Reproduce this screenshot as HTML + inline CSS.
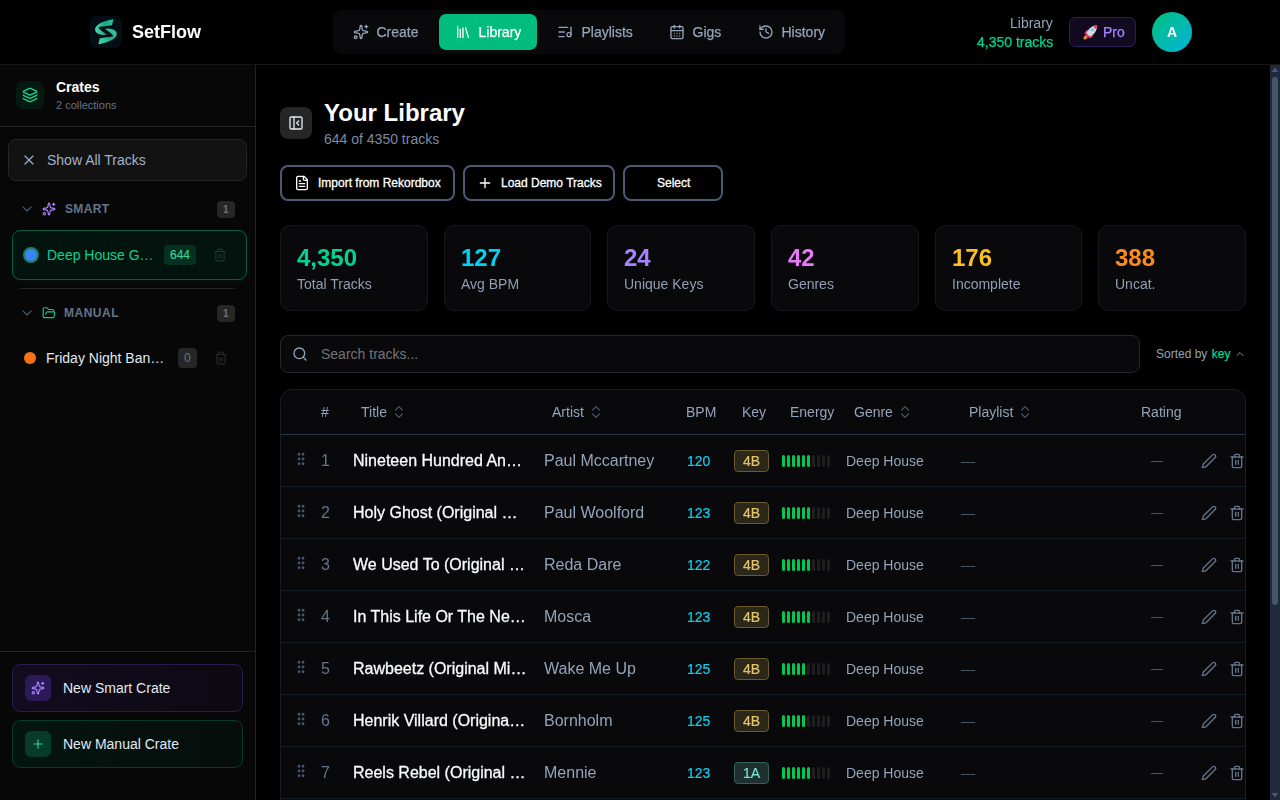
<!DOCTYPE html>
<html><head><meta charset="utf-8"><title>SetFlow</title>
<style>
*{box-sizing:border-box;margin:0;padding:0}
html,body{width:1280px;height:800px;overflow:hidden;background:#000;color:#fff;font-family:"Liberation Sans",sans-serif;}
body{position:relative}
svg{display:block}
.abs{position:absolute}
.t{white-space:nowrap}
.box{position:absolute}
</style></head><body>
<div class="box" style="left:0;top:0;width:1280px;height:65px;background:#000;border-bottom:1px solid #171717"></div>
<div class="box" style="left:90px;top:16px;width:32px;height:32px;border-radius:7px;background:#050e14;overflow:hidden"><svg width="32" height="32" viewBox="0 0 32 32"><defs><linearGradient id="lg1" x1="0" y1="0" x2="1" y2="0"><stop offset="0" stop-color="#46deb0"/><stop offset="0.55" stop-color="#1aa886"/><stop offset="1" stop-color="#2fc79c"/></linearGradient><linearGradient id="lg2" x1="1" y1="0" x2="0" y2="1"><stop offset="0" stop-color="#3fe2b4"/><stop offset="0.5" stop-color="#1fae8a"/><stop offset="1" stop-color="#35d3a4"/></linearGradient></defs><path id="rb" d="M23.4 3.3 C17 4.5 9 6.5 5.8 11 C4.6 13 5 15 6.3 16.5 C8.5 18.6 13 19.6 16.8 18.6 C14 16.5 10 14.5 8.3 11.3 C12 10.3 18 10 22 9.3 Z" fill="url(#lg1)"/><path d="M23.4 3.3 C17 4.5 9 6.5 5.8 11 C4.6 13 5 15 6.3 16.5 C8.5 18.6 13 19.6 16.8 18.6 C14 16.5 10 14.5 8.3 11.3 C12 10.3 18 10 22 9.3 Z" fill="url(#lg2)" transform="rotate(180 15.9 15.75)"/></svg></div>
<div class="abs t" style="left:132px;top:20px;font-size:18px;line-height:24px;color:#fff;font-weight:bold;will-change:transform">SetFlow</div>
<div class="box" style="left:333px;top:10px;width:512px;height:44px;border-radius:9px;background:#09090b"></div>
<div class="box" style="left:439px;top:14px;width:98px;height:36px;border-radius:7px;background:#00bc7d"></div>
<svg class="abs" style="left:353px;top:24px;" width="16" height="16" viewBox="0 0 24 24" fill="none" stroke="#94a3b8" stroke-width="2" stroke-linecap="round" stroke-linejoin="round"><path d="M11.017 2.814a1 1 0 0 1 1.966 0l1.051 5.558a2 2 0 0 0 1.594 1.594l5.558 1.051a1 1 0 0 1 0 1.966l-5.558 1.051a2 2 0 0 0-1.594 1.594l-1.051 5.558a1 1 0 0 1-1.966 0l-1.051-5.558a2 2 0 0 0-1.594-1.594l-5.558-1.051a1 1 0 0 1 0-1.966l5.558-1.051a2 2 0 0 0 1.594-1.594z"/><path d="M20 2v4"/><path d="M22 4h-4"/><circle cx="4" cy="20" r="2"/></svg>
<div class="abs t" style="left:377px;top:22px;font-size:14px;line-height:20px;color:#94a3b8;will-change:transform;transform:translateX(-0.5px);-webkit-text-stroke:0.25px currentColor">Create</div>
<svg class="abs" style="left:455px;top:24px;" width="16" height="16" viewBox="0 0 24 24" fill="none" stroke="#fff" stroke-width="2" stroke-linecap="round" stroke-linejoin="round"><path d="m16 6 4 14"/><path d="M12 6v14"/><path d="M8 8v12"/><path d="M4 4v16"/></svg>
<div class="abs t" style="left:479px;top:22px;font-size:14px;line-height:20px;color:#fff;will-change:transform;transform:translateX(-0.5px);-webkit-text-stroke:0.25px currentColor">Library</div>
<svg class="abs" style="left:557px;top:24px;" width="16" height="16" viewBox="0 0 24 24" fill="none" stroke="#94a3b8" stroke-width="2" stroke-linecap="round" stroke-linejoin="round"><path d="M16 5H3"/><path d="M11 12H3"/><path d="M11 19H3"/><path d="M21 16V5"/><circle cx="18" cy="16" r="3"/></svg>
<div class="abs t" style="left:582px;top:22px;font-size:14px;line-height:20px;color:#94a3b8;will-change:transform;transform:translateX(-0.5px);-webkit-text-stroke:0.25px currentColor">Playlists</div>
<svg class="abs" style="left:669px;top:24px;" width="16" height="16" viewBox="0 0 24 24" fill="none" stroke="#94a3b8" stroke-width="2" stroke-linecap="round" stroke-linejoin="round"><path d="M8 2v4"/><path d="M16 2v4"/><rect width="18" height="18" x="3" y="4" rx="2"/><path d="M3 10h18"/><path d="M8 14h.01"/><path d="M12 14h.01"/><path d="M16 14h.01"/><path d="M8 18h.01"/><path d="M12 18h.01"/><path d="M16 18h.01"/></svg>
<div class="abs t" style="left:693px;top:22px;font-size:14px;line-height:20px;color:#94a3b8;will-change:transform;transform:translateX(-0.5px);-webkit-text-stroke:0.25px currentColor">Gigs</div>
<svg class="abs" style="left:758px;top:24px;" width="16" height="16" viewBox="0 0 24 24" fill="none" stroke="#94a3b8" stroke-width="2" stroke-linecap="round" stroke-linejoin="round"><path d="M3 12a9 9 0 1 0 9-9 9.75 9.75 0 0 0-6.74 2.74L3 8"/><path d="M3 3v5h5"/><path d="M12 7v5l4 2"/></svg>
<div class="abs t" style="left:782px;top:22px;font-size:14px;line-height:20px;color:#94a3b8;will-change:transform;transform:translateX(-0.5px);-webkit-text-stroke:0.25px currentColor">History</div>
<div class="abs t" style="right:227px;top:12px;text-align:right;font-size:14px;line-height:20px;color:#94a3b8;will-change:transform;transform:translateY(0.6px)">Library</div>
<div class="abs t" style="right:227px;top:32px;text-align:right;font-size:14px;line-height:20px;color:#00d492;will-change:transform;-webkit-text-stroke:0.25px #00d492">4,350 tracks</div>
<div class="box" style="left:1069px;top:17px;width:67px;height:30px;border:1px solid #2b1b55;background:#120a20;border-radius:6px"></div>
<svg class="abs" style="left:1081.5px;top:24px" width="16" height="16" viewBox="0 0 16 16"><path d="M1.7 15.2 C1.0 13.4 2.2 11.8 4.0 11.5 L5.5 13.0 C5.2 14.8 3.5 15.9 1.7 15.2Z" fill="#f5931f"/><path d="M6.8 5.8 C4.6 5.8 2.9 7.4 2.4 10.2 L5.8 9.4 Z M11.2 10.2 C11.2 12.4 9.6 14.1 6.8 14.6 L7.6 11.2 Z" fill="#ee3f6b"/><path d="M15.1 1.3 C11.5 1.3 8.3 3.1 6.0 6.6 L4.4 9.6 L7.4 12.6 L10.4 11.0 C13.9 8.7 15.1 4.9 15.1 1.3Z" fill="#d3d9e2"/><path d="M4.4 9.6 L7.4 12.6 L5.6 13.6 L3.4 11.4 Z" fill="#ee3f6b"/><path d="M15.1 1.3 C13.7 1.3 12.3 1.6 11.1 2.2 L14.2 5.3 C14.8 4.1 15.1 2.7 15.1 1.3 Z" fill="#e8334f"/><circle cx="10.4" cy="5.9" r="1.45" fill="#57aef0"/><circle cx="10.4" cy="5.9" r="0.7" fill="#a8d8f8"/></svg>
<div class="abs t" style="left:1103px;top:22px;font-size:14px;line-height:20px;color:#a684ff;will-change:transform;-webkit-text-stroke:0.25px #a684ff">Pro</div>
<div class="box" style="left:1152px;top:12px;width:40px;height:40px;border-radius:50%;background:linear-gradient(135deg,#00bf86 10%,#00b5d2 90%)"></div>
<div class="abs t" style="left:1167px;top:22px;font-size:14px;line-height:20px;color:#fff;font-weight:bold;will-change:transform">A</div>
<div class="box" style="left:0;top:65px;width:256px;height:735px;background:#070707;border-right:1px solid #232323"></div>
<div class="box" style="left:16px;top:81px;width:28px;height:28px;border-radius:7px;background:#051811"></div>
<svg class="abs" style="left:22px;top:87px;" width="16" height="16" viewBox="0 0 24 24" fill="none" stroke="#0fd596" stroke-width="2" stroke-linecap="round" stroke-linejoin="round"><path d="M12.83 2.18a2 2 0 0 0-1.66 0L2.6 6.08a1 1 0 0 0 0 1.83l8.58 3.91a2 2 0 0 0 1.66 0l8.58-3.9a1 1 0 0 0 0-1.83z"/><path d="M2 12a1 1 0 0 0 .58.91l8.6 3.91a2 2 0 0 0 1.65 0l8.58-3.9A1 1 0 0 0 22 12"/><path d="M2 17a1 1 0 0 0 .58.91l8.6 3.91a2 2 0 0 0 1.65 0l8.58-3.9A1 1 0 0 0 22 17"/></svg>
<div class="abs t" style="left:56px;top:77px;font-size:14px;line-height:20px;color:#fff;font-weight:bold">Crates</div>
<div class="abs t" style="left:56px;top:97px;font-size:11px;line-height:16px;color:#64748b;">2 collections</div>
<div class="box" style="left:0;top:126px;width:255px;height:1px;background:#232323"></div>
<div class="box" style="left:8px;top:139px;width:239px;height:42px;border-radius:8px;background:#121212;border:1px solid #262626"></div>
<svg class="abs" style="left:21px;top:152px;" width="16" height="16" viewBox="0 0 24 24" fill="none" stroke="#94a3b8" stroke-width="2" stroke-linecap="round" stroke-linejoin="round"><path d="M18 6 6 18"/><path d="m6 6 12 12"/></svg>
<div class="abs t" style="left:47px;top:150px;font-size:14px;line-height:20px;color:#a3b1c6;">Show All Tracks</div>
<svg class="abs" style="left:19px;top:201px;" width="16" height="16" viewBox="0 0 24 24" fill="none" stroke="#475569" stroke-width="1.8" stroke-linecap="round" stroke-linejoin="round"><path d="m6 9 6 6 6-6"/></svg>
<svg class="abs" style="left:42px;top:202px;" width="14" height="14" viewBox="0 0 24 24" fill="none" stroke="#a684ff" stroke-width="2" stroke-linecap="round" stroke-linejoin="round"><path d="M11.017 2.814a1 1 0 0 1 1.966 0l1.051 5.558a2 2 0 0 0 1.594 1.594l5.558 1.051a1 1 0 0 1 0 1.966l-5.558 1.051a2 2 0 0 0-1.594 1.594l-1.051 5.558a1 1 0 0 1-1.966 0l-1.051-5.558a2 2 0 0 0-1.594-1.594l-5.558-1.051a1 1 0 0 1 0-1.966l5.558-1.051a2 2 0 0 0 1.594-1.594z"/><path d="M20 2v4"/><path d="M22 4h-4"/><circle cx="4" cy="20" r="2"/></svg>
<div class="abs t" style="left:65px;top:201px;font-size:12px;line-height:16px;color:#64748b;font-weight:bold;letter-spacing:0.35px">SMART</div>
<div class="box" style="left:217px;top:201px;width:18px;height:17px;border-radius:4px;background:#262626"></div>
<div class="abs t" style="left:223px;top:202px;font-size:10px;line-height:15px;color:#64748b;font-weight:bold">1</div>
<div class="box" style="left:12px;top:230px;width:235px;height:50px;border-radius:8px;background:#03130e;border:1px solid #085c40;box-shadow:0 2px 8px rgba(16,185,129,0.07)"></div>
<div class="box" style="left:23px;top:247px;width:16px;height:16px;border-radius:50%;background:#3b82f6;border:2px solid #1b7f64"></div>
<div class="abs t" style="left:47px;top:245px;font-size:14px;line-height:20px;color:#00d492;">Deep House G…</div>
<div class="box" style="left:164px;top:245px;width:32px;height:20px;border-radius:4px;background:#06301f"></div>
<div class="abs t" style="left:170px;top:247px;font-size:12px;line-height:16px;color:#34d399;-webkit-text-stroke:0.2px #34d399">644</div>
<svg class="abs" style="left:213px;top:248px;" width="14" height="14" viewBox="0 0 24 24" fill="none" stroke="#1d3a31" stroke-width="2" stroke-linecap="round" stroke-linejoin="round"><path d="M3 6h18"/><path d="M19 6v14c0 1-1 2-2 2H7c-1 0-2-1-2-2V6"/><path d="M8 6V4c0-1 1-2 2-2h4c1 0 2 1 2 2v2"/><path d="M10 11v6"/><path d="M14 11v6"/></svg>
<div class="box" style="left:20px;top:288px;width:215px;height:1px;background:#232323"></div>
<svg class="abs" style="left:19px;top:305px;" width="16" height="16" viewBox="0 0 24 24" fill="none" stroke="#475569" stroke-width="1.8" stroke-linecap="round" stroke-linejoin="round"><path d="m6 9 6 6 6-6"/></svg>
<svg class="abs" style="left:42px;top:306px;" width="14" height="14" viewBox="0 0 24 24" fill="none" stroke="#10c98a" stroke-width="2" stroke-linecap="round" stroke-linejoin="round"><path d="m6 14 1.5-2.9A2 2 0 0 1 9.24 10H20a2 2 0 0 1 1.94 2.5l-1.54 6a2 2 0 0 1-1.95 1.5H4a2 2 0 0 1-2-2V5a2 2 0 0 1 2-2h3.9a2 2 0 0 1 1.69.9l.81 1.2a2 2 0 0 0 1.67.9H18a2 2 0 0 1 2 2v2"/></svg>
<div class="abs t" style="left:64px;top:305px;font-size:12px;line-height:16px;color:#64748b;font-weight:bold;letter-spacing:0.5px">MANUAL</div>
<div class="box" style="left:217px;top:305px;width:18px;height:17px;border-radius:4px;background:#262626"></div>
<div class="abs t" style="left:223px;top:306px;font-size:10px;line-height:15px;color:#64748b;font-weight:bold">1</div>
<div class="box" style="left:24px;top:352px;width:12px;height:12px;border-radius:50%;background:#f97316"></div>
<div class="abs t" style="left:46px;top:348px;font-size:14px;line-height:20px;color:#e2e8f0;">Friday Night Ban…</div>
<div class="box" style="left:178px;top:348px;width:19px;height:20px;border-radius:4px;background:#262626"></div>
<div class="abs t" style="left:184px;top:350px;font-size:12px;line-height:16px;color:#64748b;">0</div>
<svg class="abs" style="left:214px;top:351px;" width="14" height="14" viewBox="0 0 24 24" fill="none" stroke="#262a30" stroke-width="2" stroke-linecap="round" stroke-linejoin="round"><path d="M3 6h18"/><path d="M19 6v14c0 1-1 2-2 2H7c-1 0-2-1-2-2V6"/><path d="M8 6V4c0-1 1-2 2-2h4c1 0 2 1 2 2v2"/><path d="M10 11v6"/><path d="M14 11v6"/></svg>
<div class="box" style="left:0;top:651px;width:255px;height:1px;background:#232323"></div>
<div class="box" style="left:12px;top:664px;width:231px;height:48px;border-radius:8px;background:linear-gradient(90deg,#130c1f,#0c0911);border:1px solid #2b1a4d"></div>
<div class="box" style="left:25px;top:675px;width:26px;height:26px;border-radius:6px;background:#2c1a58"></div>
<svg class="abs" style="left:31px;top:681px;" width="14" height="14" viewBox="0 0 24 24" fill="none" stroke="#a684ff" stroke-width="2" stroke-linecap="round" stroke-linejoin="round"><path d="M11.017 2.814a1 1 0 0 1 1.966 0l1.051 5.558a2 2 0 0 0 1.594 1.594l5.558 1.051a1 1 0 0 1 0 1.966l-5.558 1.051a2 2 0 0 0-1.594 1.594l-1.051 5.558a1 1 0 0 1-1.966 0l-1.051-5.558a2 2 0 0 0-1.594-1.594l-5.558-1.051a1 1 0 0 1 0-1.966l5.558-1.051a2 2 0 0 0 1.594-1.594z"/><path d="M20 2v4"/><path d="M22 4h-4"/><circle cx="4" cy="20" r="2"/></svg>
<div class="abs t" style="left:63px;top:678px;font-size:14px;line-height:20px;color:#e2e8f0;">New Smart Crate</div>
<div class="box" style="left:12px;top:720px;width:231px;height:48px;border-radius:8px;background:linear-gradient(90deg,#04150f,#060d0b);border:1px solid #073b29"></div>
<div class="box" style="left:25px;top:731px;width:26px;height:26px;border-radius:6px;background:#063c29"></div>
<svg class="abs" style="left:31px;top:737px;" width="14" height="14" viewBox="0 0 24 24" fill="none" stroke="#34d399" stroke-width="2" stroke-linecap="round" stroke-linejoin="round"><path d="M5 12h14"/><path d="M12 5v14"/></svg>
<div class="abs t" style="left:63px;top:734px;font-size:14px;line-height:20px;color:#e2e8f0;">New Manual Crate</div>
<div class="box" style="left:280px;top:107px;width:32px;height:32px;border-radius:8px;background:#262627"></div>
<svg class="abs" style="left:288px;top:115px;" width="16" height="16" viewBox="0 0 24 24" fill="none" stroke="#e5e7eb" stroke-width="2" stroke-linecap="round" stroke-linejoin="round"><rect width="18" height="18" x="3" y="3" rx="2"/><path d="M9 3v18"/><path d="m16 15-3-3 3-3"/></svg>
<div class="abs t" style="left:324px;top:97px;font-size:24px;line-height:32px;color:#fff;font-weight:bold">Your Library</div>
<div class="abs t" style="left:324px;top:129px;font-size:14px;line-height:20px;color:#7c8ba1;">644 of 4350 tracks</div>
<div class="box" style="left:280px;top:165px;width:175px;height:36px;border-radius:8px;border:2px solid #4a5a75"></div>
<div class="box" style="left:463px;top:165px;width:152px;height:36px;border-radius:8px;border:2px solid #4a5a75"></div>
<div class="box" style="left:623px;top:165px;width:100px;height:36px;border-radius:8px;border:2px solid #4a5a75"></div>
<svg class="abs" style="left:294px;top:175px;" width="16" height="16" viewBox="0 0 24 24" fill="none" stroke="#fff" stroke-width="2" stroke-linecap="round" stroke-linejoin="round"><path d="M15 2H6a2 2 0 0 0-2 2v16a2 2 0 0 0 2 2h12a2 2 0 0 0 2-2V7Z"/><path d="M14 2v4a2 2 0 0 0 2 2h4"/><path d="M10 9H8"/><path d="M16 13H8"/><path d="M16 17H8"/></svg>
<div class="abs t" style="left:318px;top:175px;font-size:12px;line-height:16px;color:#fff;-webkit-text-stroke:0.3px #fff">Import from Rekordbox</div>
<svg class="abs" style="left:477px;top:175px;" width="16" height="16" viewBox="0 0 24 24" fill="none" stroke="#fff" stroke-width="2" stroke-linecap="round" stroke-linejoin="round"><path d="M5 12h14"/><path d="M12 5v14"/></svg>
<div class="abs t" style="left:501px;top:175px;font-size:12px;line-height:16px;color:#fff;-webkit-text-stroke:0.3px #fff">Load Demo Tracks</div>
<div class="abs t" style="left:657px;top:175px;font-size:12px;line-height:16px;color:#fff;-webkit-text-stroke:0.3px #fff">Select</div>
<div class="box" style="left:280.00px;top:225px;width:147.67px;height:86px;border-radius:10px;background:#09090b;border:1px solid #16181d"></div>
<div class="abs t" style="left:297.0px;top:242px;font-size:24px;line-height:32px;color:#00d492;font-weight:bold;will-change:transform">4,350</div>
<div class="abs t" style="left:297.0px;top:274px;font-size:14px;line-height:20px;color:#929eb3;will-change:transform">Total Tracks</div>
<div class="box" style="left:443.67px;top:225px;width:147.67px;height:86px;border-radius:10px;background:#09090b;border:1px solid #16181d"></div>
<div class="abs t" style="left:460.67px;top:242px;font-size:24px;line-height:32px;color:#00d3f2;font-weight:bold;will-change:transform">127</div>
<div class="abs t" style="left:460.67px;top:274px;font-size:14px;line-height:20px;color:#929eb3;will-change:transform">Avg BPM</div>
<div class="box" style="left:607.34px;top:225px;width:147.67px;height:86px;border-radius:10px;background:#09090b;border:1px solid #16181d"></div>
<div class="abs t" style="left:624.34px;top:242px;font-size:24px;line-height:32px;color:#a684ff;font-weight:bold;will-change:transform">24</div>
<div class="abs t" style="left:624.34px;top:274px;font-size:14px;line-height:20px;color:#929eb3;will-change:transform">Unique Keys</div>
<div class="box" style="left:771.01px;top:225px;width:147.67px;height:86px;border-radius:10px;background:#09090b;border:1px solid #16181d"></div>
<div class="abs t" style="left:788.01px;top:242px;font-size:24px;line-height:32px;color:#e879f9;font-weight:bold;will-change:transform">42</div>
<div class="abs t" style="left:788.01px;top:274px;font-size:14px;line-height:20px;color:#929eb3;will-change:transform">Genres</div>
<div class="box" style="left:934.68px;top:225px;width:147.67px;height:86px;border-radius:10px;background:#09090b;border:1px solid #16181d"></div>
<div class="abs t" style="left:951.68px;top:242px;font-size:24px;line-height:32px;color:#fbbf24;font-weight:bold;will-change:transform">176</div>
<div class="abs t" style="left:951.68px;top:274px;font-size:14px;line-height:20px;color:#929eb3;will-change:transform">Incomplete</div>
<div class="box" style="left:1098.35px;top:225px;width:147.67px;height:86px;border-radius:10px;background:#09090b;border:1px solid #16181d"></div>
<div class="abs t" style="left:1115.35px;top:242px;font-size:24px;line-height:32px;color:#fb8c1c;font-weight:bold;will-change:transform">388</div>
<div class="abs t" style="left:1115.35px;top:274px;font-size:14px;line-height:20px;color:#929eb3;will-change:transform">Uncat.</div>
<div class="box" style="left:280px;top:335px;width:860px;height:38px;border-radius:8px;background:#09090b;border:1px solid #26272b"></div>
<svg class="abs" style="left:292px;top:346px;" width="16" height="16" viewBox="0 0 24 24" fill="none" stroke="#94a3b8" stroke-width="2" stroke-linecap="round" stroke-linejoin="round"><circle cx="11" cy="11" r="8"/><path d="m21 21-4.3-4.3"/></svg>
<div class="abs t" style="left:321px;top:344px;font-size:14px;line-height:20px;color:#737378;">Search tracks...</div>
<div class="abs t" style="left:1156px;top:346px;font-size:12px;line-height:16px;color:#94a3b8;">Sorted by <span style="color:#00d492;margin-left:1px;-webkit-text-stroke:0.25px #00d492">key</span></div>
<svg class="abs" style="left:1233.5px;top:347.5px;" width="12" height="12" viewBox="0 0 24 24" fill="none" stroke="#8590a3" stroke-width="2" stroke-linecap="round" stroke-linejoin="round"><path d="m18 15-6-6-6 6"/></svg>
<div class="box" style="left:280px;top:389px;width:966px;height:430px;border-radius:12px;background:#09090b;border:1px solid #171c28"></div>
<div class="abs t" style="left:320.7px;top:402px;font-size:14px;line-height:20px;color:#94a3b8;will-change:transform">#</div>
<div class="abs t" style="left:361px;top:402px;font-size:14px;line-height:20px;color:#94a3b8;will-change:transform">Title</div>
<div class="abs t" style="left:552px;top:402px;font-size:14px;line-height:20px;color:#94a3b8;will-change:transform">Artist</div>
<div class="abs t" style="left:686px;top:402px;font-size:14px;line-height:20px;color:#94a3b8;will-change:transform">BPM</div>
<div class="abs t" style="left:742px;top:402px;font-size:14px;line-height:20px;color:#94a3b8;will-change:transform">Key</div>
<div class="abs t" style="left:790px;top:402px;font-size:14px;line-height:20px;color:#94a3b8;will-change:transform">Energy</div>
<div class="abs t" style="left:854px;top:402px;font-size:14px;line-height:20px;color:#94a3b8;will-change:transform">Genre</div>
<div class="abs t" style="left:969px;top:402px;font-size:14px;line-height:20px;color:#94a3b8;will-change:transform">Playlist</div>
<div class="abs t" style="left:1141px;top:402px;font-size:14px;line-height:20px;color:#94a3b8;will-change:transform">Rating</div>
<svg class="abs" style="left:391px;top:404px;" width="16" height="16" viewBox="0 0 24 24" fill="none" stroke="#475569" stroke-width="1.8" stroke-linecap="round" stroke-linejoin="round"><path d="m7 15 5 5 5-5"/><path d="m7 9 5-5 5 5"/></svg>
<svg class="abs" style="left:588px;top:404px;" width="16" height="16" viewBox="0 0 24 24" fill="none" stroke="#475569" stroke-width="1.8" stroke-linecap="round" stroke-linejoin="round"><path d="m7 15 5 5 5-5"/><path d="m7 9 5-5 5 5"/></svg>
<svg class="abs" style="left:897px;top:404px;" width="16" height="16" viewBox="0 0 24 24" fill="none" stroke="#475569" stroke-width="1.8" stroke-linecap="round" stroke-linejoin="round"><path d="m7 15 5 5 5-5"/><path d="m7 9 5-5 5 5"/></svg>
<svg class="abs" style="left:1017px;top:404px;" width="16" height="16" viewBox="0 0 24 24" fill="none" stroke="#475569" stroke-width="1.8" stroke-linecap="round" stroke-linejoin="round"><path d="m7 15 5 5 5-5"/><path d="m7 9 5-5 5 5"/></svg>
<div class="box" style="left:281px;top:434px;width:964px;height:1px;background:#2a3649"></div>
<div class="box" style="left:281px;top:486px;width:964px;height:1px;background:#161c27"></div>
<svg class="abs" style="left:293px;top:451px;" width="16" height="16" viewBox="0 0 24 24" fill="none" stroke="#475569" stroke-width="2.4" stroke-linecap="round" stroke-linejoin="round"><circle cx="9" cy="12" r="1"/><circle cx="9" cy="5" r="1"/><circle cx="9" cy="19" r="1"/><circle cx="15" cy="12" r="1"/><circle cx="15" cy="5" r="1"/><circle cx="15" cy="19" r="1"/></svg>
<div class="abs t" style="left:321px;top:450px;font-size:16px;line-height:22px;color:#64748b;will-change:transform">1</div>
<div class="abs t" style="left:353px;top:450px;font-size:16px;line-height:22px;color:#f8fafc;will-change:transform;-webkit-text-stroke:0.3px #f8fafc">Nineteen Hundred An…</div>
<div class="abs t" style="left:544px;top:450px;font-size:16px;line-height:22px;color:#94a3b8;will-change:transform">Paul Mccartney</div>
<div class="abs t" style="left:687px;top:451px;font-size:14px;line-height:20px;color:#12cdee;will-change:transform;-webkit-text-stroke:0.2px #12cdee">120</div>
<div class="box" style="left:734px;top:450px;width:35px;height:22px;border-radius:4px;background:#2b281a;border:1px solid #69592c"></div>
<div class="abs t" style="left:743px;top:451px;font-size:14px;line-height:20px;color:#e2c568;will-change:transform;-webkit-text-stroke:0.2px #e2c568">4B</div>
<div class="box" style="left:782px;top:455px;width:3px;height:12px;border-radius:1.5px;background:#00c950"></div>
<div class="box" style="left:787px;top:455px;width:3px;height:12px;border-radius:1.5px;background:#00c950"></div>
<div class="box" style="left:792px;top:455px;width:3px;height:12px;border-radius:1.5px;background:#00c950"></div>
<div class="box" style="left:797px;top:455px;width:3px;height:12px;border-radius:1.5px;background:#00c950"></div>
<div class="box" style="left:802px;top:455px;width:3px;height:12px;border-radius:1.5px;background:#00c950"></div>
<div class="box" style="left:807px;top:455px;width:3px;height:12px;border-radius:1.5px;background:#00c950"></div>
<div class="box" style="left:812px;top:455px;width:3px;height:12px;border-radius:1.5px;background:#1f1f1f"></div>
<div class="box" style="left:817px;top:455px;width:3px;height:12px;border-radius:1.5px;background:#1f1f1f"></div>
<div class="box" style="left:822px;top:455px;width:3px;height:12px;border-radius:1.5px;background:#1f1f1f"></div>
<div class="box" style="left:827px;top:455px;width:3px;height:12px;border-radius:1.5px;background:#1f1f1f"></div>
<div class="abs t" style="left:846px;top:451px;font-size:14px;line-height:20px;color:#94a3b8;will-change:transform">Deep House</div>
<div class="abs t" style="left:961px;top:451px;font-size:14px;line-height:20px;color:#475569;">—</div>
<div class="abs t" style="left:1151px;top:452px;font-size:12px;line-height:18px;color:#475569;">—</div>
<svg class="abs" style="left:1201px;top:453px;" width="16" height="16" viewBox="0 0 24 24" fill="none" stroke="#64748b" stroke-width="2" stroke-linecap="round" stroke-linejoin="round"><path d="M21.174 6.812a1 1 0 0 0-3.986-3.987L3.842 16.174a2 2 0 0 0-.5.83l-1.321 4.352a.5.5 0 0 0 .623.622l4.353-1.32a2 2 0 0 0 .83-.497z"/></svg>
<svg class="abs" style="left:1229px;top:453.25px;" width="16" height="16" viewBox="0 0 24 24" fill="none" stroke="#64748b" stroke-width="2" stroke-linecap="round" stroke-linejoin="round"><path d="M3 6h18"/><path d="M19 6v14c0 1-1 2-2 2H7c-1 0-2-1-2-2V6"/><path d="M8 6V4c0-1 1-2 2-2h4c1 0 2 1 2 2v2"/><path d="M10 11v6"/><path d="M14 11v6"/></svg>
<div class="box" style="left:281px;top:538px;width:964px;height:1px;background:#161c27"></div>
<svg class="abs" style="left:293px;top:503px;" width="16" height="16" viewBox="0 0 24 24" fill="none" stroke="#475569" stroke-width="2.4" stroke-linecap="round" stroke-linejoin="round"><circle cx="9" cy="12" r="1"/><circle cx="9" cy="5" r="1"/><circle cx="9" cy="19" r="1"/><circle cx="15" cy="12" r="1"/><circle cx="15" cy="5" r="1"/><circle cx="15" cy="19" r="1"/></svg>
<div class="abs t" style="left:321px;top:502px;font-size:16px;line-height:22px;color:#64748b;will-change:transform">2</div>
<div class="abs t" style="left:353px;top:502px;font-size:16px;line-height:22px;color:#f8fafc;will-change:transform;-webkit-text-stroke:0.3px #f8fafc">Holy Ghost (Original …</div>
<div class="abs t" style="left:544px;top:502px;font-size:16px;line-height:22px;color:#94a3b8;will-change:transform">Paul Woolford</div>
<div class="abs t" style="left:687px;top:503px;font-size:14px;line-height:20px;color:#12cdee;will-change:transform;-webkit-text-stroke:0.2px #12cdee">123</div>
<div class="box" style="left:734px;top:502px;width:35px;height:22px;border-radius:4px;background:#2b281a;border:1px solid #69592c"></div>
<div class="abs t" style="left:743px;top:503px;font-size:14px;line-height:20px;color:#e2c568;will-change:transform;-webkit-text-stroke:0.2px #e2c568">4B</div>
<div class="box" style="left:782px;top:507px;width:3px;height:12px;border-radius:1.5px;background:#00c950"></div>
<div class="box" style="left:787px;top:507px;width:3px;height:12px;border-radius:1.5px;background:#00c950"></div>
<div class="box" style="left:792px;top:507px;width:3px;height:12px;border-radius:1.5px;background:#00c950"></div>
<div class="box" style="left:797px;top:507px;width:3px;height:12px;border-radius:1.5px;background:#00c950"></div>
<div class="box" style="left:802px;top:507px;width:3px;height:12px;border-radius:1.5px;background:#00c950"></div>
<div class="box" style="left:807px;top:507px;width:3px;height:12px;border-radius:1.5px;background:#00c950"></div>
<div class="box" style="left:812px;top:507px;width:3px;height:12px;border-radius:1.5px;background:#1f1f1f"></div>
<div class="box" style="left:817px;top:507px;width:3px;height:12px;border-radius:1.5px;background:#1f1f1f"></div>
<div class="box" style="left:822px;top:507px;width:3px;height:12px;border-radius:1.5px;background:#1f1f1f"></div>
<div class="box" style="left:827px;top:507px;width:3px;height:12px;border-radius:1.5px;background:#1f1f1f"></div>
<div class="abs t" style="left:846px;top:503px;font-size:14px;line-height:20px;color:#94a3b8;will-change:transform">Deep House</div>
<div class="abs t" style="left:961px;top:503px;font-size:14px;line-height:20px;color:#475569;">—</div>
<div class="abs t" style="left:1151px;top:504px;font-size:12px;line-height:18px;color:#475569;">—</div>
<svg class="abs" style="left:1201px;top:505px;" width="16" height="16" viewBox="0 0 24 24" fill="none" stroke="#64748b" stroke-width="2" stroke-linecap="round" stroke-linejoin="round"><path d="M21.174 6.812a1 1 0 0 0-3.986-3.987L3.842 16.174a2 2 0 0 0-.5.83l-1.321 4.352a.5.5 0 0 0 .623.622l4.353-1.32a2 2 0 0 0 .83-.497z"/></svg>
<svg class="abs" style="left:1229px;top:505.25px;" width="16" height="16" viewBox="0 0 24 24" fill="none" stroke="#64748b" stroke-width="2" stroke-linecap="round" stroke-linejoin="round"><path d="M3 6h18"/><path d="M19 6v14c0 1-1 2-2 2H7c-1 0-2-1-2-2V6"/><path d="M8 6V4c0-1 1-2 2-2h4c1 0 2 1 2 2v2"/><path d="M10 11v6"/><path d="M14 11v6"/></svg>
<div class="box" style="left:281px;top:590px;width:964px;height:1px;background:#161c27"></div>
<svg class="abs" style="left:293px;top:555px;" width="16" height="16" viewBox="0 0 24 24" fill="none" stroke="#475569" stroke-width="2.4" stroke-linecap="round" stroke-linejoin="round"><circle cx="9" cy="12" r="1"/><circle cx="9" cy="5" r="1"/><circle cx="9" cy="19" r="1"/><circle cx="15" cy="12" r="1"/><circle cx="15" cy="5" r="1"/><circle cx="15" cy="19" r="1"/></svg>
<div class="abs t" style="left:321px;top:554px;font-size:16px;line-height:22px;color:#64748b;will-change:transform">3</div>
<div class="abs t" style="left:353px;top:554px;font-size:16px;line-height:22px;color:#f8fafc;will-change:transform;-webkit-text-stroke:0.3px #f8fafc">We Used To (Original …</div>
<div class="abs t" style="left:544px;top:554px;font-size:16px;line-height:22px;color:#94a3b8;will-change:transform">Reda Dare</div>
<div class="abs t" style="left:687px;top:555px;font-size:14px;line-height:20px;color:#12cdee;will-change:transform;-webkit-text-stroke:0.2px #12cdee">122</div>
<div class="box" style="left:734px;top:554px;width:35px;height:22px;border-radius:4px;background:#2b281a;border:1px solid #69592c"></div>
<div class="abs t" style="left:743px;top:555px;font-size:14px;line-height:20px;color:#e2c568;will-change:transform;-webkit-text-stroke:0.2px #e2c568">4B</div>
<div class="box" style="left:782px;top:559px;width:3px;height:12px;border-radius:1.5px;background:#00c950"></div>
<div class="box" style="left:787px;top:559px;width:3px;height:12px;border-radius:1.5px;background:#00c950"></div>
<div class="box" style="left:792px;top:559px;width:3px;height:12px;border-radius:1.5px;background:#00c950"></div>
<div class="box" style="left:797px;top:559px;width:3px;height:12px;border-radius:1.5px;background:#00c950"></div>
<div class="box" style="left:802px;top:559px;width:3px;height:12px;border-radius:1.5px;background:#00c950"></div>
<div class="box" style="left:807px;top:559px;width:3px;height:12px;border-radius:1.5px;background:#00c950"></div>
<div class="box" style="left:812px;top:559px;width:3px;height:12px;border-radius:1.5px;background:#1f1f1f"></div>
<div class="box" style="left:817px;top:559px;width:3px;height:12px;border-radius:1.5px;background:#1f1f1f"></div>
<div class="box" style="left:822px;top:559px;width:3px;height:12px;border-radius:1.5px;background:#1f1f1f"></div>
<div class="box" style="left:827px;top:559px;width:3px;height:12px;border-radius:1.5px;background:#1f1f1f"></div>
<div class="abs t" style="left:846px;top:555px;font-size:14px;line-height:20px;color:#94a3b8;will-change:transform">Deep House</div>
<div class="abs t" style="left:961px;top:555px;font-size:14px;line-height:20px;color:#475569;">—</div>
<div class="abs t" style="left:1151px;top:556px;font-size:12px;line-height:18px;color:#475569;">—</div>
<svg class="abs" style="left:1201px;top:557px;" width="16" height="16" viewBox="0 0 24 24" fill="none" stroke="#64748b" stroke-width="2" stroke-linecap="round" stroke-linejoin="round"><path d="M21.174 6.812a1 1 0 0 0-3.986-3.987L3.842 16.174a2 2 0 0 0-.5.83l-1.321 4.352a.5.5 0 0 0 .623.622l4.353-1.32a2 2 0 0 0 .83-.497z"/></svg>
<svg class="abs" style="left:1229px;top:557.25px;" width="16" height="16" viewBox="0 0 24 24" fill="none" stroke="#64748b" stroke-width="2" stroke-linecap="round" stroke-linejoin="round"><path d="M3 6h18"/><path d="M19 6v14c0 1-1 2-2 2H7c-1 0-2-1-2-2V6"/><path d="M8 6V4c0-1 1-2 2-2h4c1 0 2 1 2 2v2"/><path d="M10 11v6"/><path d="M14 11v6"/></svg>
<div class="box" style="left:281px;top:642px;width:964px;height:1px;background:#161c27"></div>
<svg class="abs" style="left:293px;top:607px;" width="16" height="16" viewBox="0 0 24 24" fill="none" stroke="#475569" stroke-width="2.4" stroke-linecap="round" stroke-linejoin="round"><circle cx="9" cy="12" r="1"/><circle cx="9" cy="5" r="1"/><circle cx="9" cy="19" r="1"/><circle cx="15" cy="12" r="1"/><circle cx="15" cy="5" r="1"/><circle cx="15" cy="19" r="1"/></svg>
<div class="abs t" style="left:321px;top:606px;font-size:16px;line-height:22px;color:#64748b;will-change:transform">4</div>
<div class="abs t" style="left:353px;top:606px;font-size:16px;line-height:22px;color:#f8fafc;will-change:transform;-webkit-text-stroke:0.3px #f8fafc">In This Life Or The Ne…</div>
<div class="abs t" style="left:544px;top:606px;font-size:16px;line-height:22px;color:#94a3b8;will-change:transform">Mosca</div>
<div class="abs t" style="left:687px;top:607px;font-size:14px;line-height:20px;color:#12cdee;will-change:transform;-webkit-text-stroke:0.2px #12cdee">123</div>
<div class="box" style="left:734px;top:606px;width:35px;height:22px;border-radius:4px;background:#2b281a;border:1px solid #69592c"></div>
<div class="abs t" style="left:743px;top:607px;font-size:14px;line-height:20px;color:#e2c568;will-change:transform;-webkit-text-stroke:0.2px #e2c568">4B</div>
<div class="box" style="left:782px;top:611px;width:3px;height:12px;border-radius:1.5px;background:#00c950"></div>
<div class="box" style="left:787px;top:611px;width:3px;height:12px;border-radius:1.5px;background:#00c950"></div>
<div class="box" style="left:792px;top:611px;width:3px;height:12px;border-radius:1.5px;background:#00c950"></div>
<div class="box" style="left:797px;top:611px;width:3px;height:12px;border-radius:1.5px;background:#00c950"></div>
<div class="box" style="left:802px;top:611px;width:3px;height:12px;border-radius:1.5px;background:#00c950"></div>
<div class="box" style="left:807px;top:611px;width:3px;height:12px;border-radius:1.5px;background:#00c950"></div>
<div class="box" style="left:812px;top:611px;width:3px;height:12px;border-radius:1.5px;background:#1f1f1f"></div>
<div class="box" style="left:817px;top:611px;width:3px;height:12px;border-radius:1.5px;background:#1f1f1f"></div>
<div class="box" style="left:822px;top:611px;width:3px;height:12px;border-radius:1.5px;background:#1f1f1f"></div>
<div class="box" style="left:827px;top:611px;width:3px;height:12px;border-radius:1.5px;background:#1f1f1f"></div>
<div class="abs t" style="left:846px;top:607px;font-size:14px;line-height:20px;color:#94a3b8;will-change:transform">Deep House</div>
<div class="abs t" style="left:961px;top:607px;font-size:14px;line-height:20px;color:#475569;">—</div>
<div class="abs t" style="left:1151px;top:608px;font-size:12px;line-height:18px;color:#475569;">—</div>
<svg class="abs" style="left:1201px;top:609px;" width="16" height="16" viewBox="0 0 24 24" fill="none" stroke="#64748b" stroke-width="2" stroke-linecap="round" stroke-linejoin="round"><path d="M21.174 6.812a1 1 0 0 0-3.986-3.987L3.842 16.174a2 2 0 0 0-.5.83l-1.321 4.352a.5.5 0 0 0 .623.622l4.353-1.32a2 2 0 0 0 .83-.497z"/></svg>
<svg class="abs" style="left:1229px;top:609.25px;" width="16" height="16" viewBox="0 0 24 24" fill="none" stroke="#64748b" stroke-width="2" stroke-linecap="round" stroke-linejoin="round"><path d="M3 6h18"/><path d="M19 6v14c0 1-1 2-2 2H7c-1 0-2-1-2-2V6"/><path d="M8 6V4c0-1 1-2 2-2h4c1 0 2 1 2 2v2"/><path d="M10 11v6"/><path d="M14 11v6"/></svg>
<div class="box" style="left:281px;top:694px;width:964px;height:1px;background:#161c27"></div>
<svg class="abs" style="left:293px;top:659px;" width="16" height="16" viewBox="0 0 24 24" fill="none" stroke="#475569" stroke-width="2.4" stroke-linecap="round" stroke-linejoin="round"><circle cx="9" cy="12" r="1"/><circle cx="9" cy="5" r="1"/><circle cx="9" cy="19" r="1"/><circle cx="15" cy="12" r="1"/><circle cx="15" cy="5" r="1"/><circle cx="15" cy="19" r="1"/></svg>
<div class="abs t" style="left:321px;top:658px;font-size:16px;line-height:22px;color:#64748b;will-change:transform">5</div>
<div class="abs t" style="left:353px;top:658px;font-size:16px;line-height:22px;color:#f8fafc;will-change:transform;-webkit-text-stroke:0.3px #f8fafc">Rawbeetz (Original Mi…</div>
<div class="abs t" style="left:544px;top:658px;font-size:16px;line-height:22px;color:#94a3b8;will-change:transform">Wake Me Up</div>
<div class="abs t" style="left:687px;top:659px;font-size:14px;line-height:20px;color:#12cdee;will-change:transform;-webkit-text-stroke:0.2px #12cdee">125</div>
<div class="box" style="left:734px;top:658px;width:35px;height:22px;border-radius:4px;background:#2b281a;border:1px solid #69592c"></div>
<div class="abs t" style="left:743px;top:659px;font-size:14px;line-height:20px;color:#e2c568;will-change:transform;-webkit-text-stroke:0.2px #e2c568">4B</div>
<div class="box" style="left:782px;top:663px;width:3px;height:12px;border-radius:1.5px;background:#00c950"></div>
<div class="box" style="left:787px;top:663px;width:3px;height:12px;border-radius:1.5px;background:#00c950"></div>
<div class="box" style="left:792px;top:663px;width:3px;height:12px;border-radius:1.5px;background:#00c950"></div>
<div class="box" style="left:797px;top:663px;width:3px;height:12px;border-radius:1.5px;background:#00c950"></div>
<div class="box" style="left:802px;top:663px;width:3px;height:12px;border-radius:1.5px;background:#00c950"></div>
<div class="box" style="left:807px;top:663px;width:3px;height:12px;border-radius:1.5px;background:#1f1f1f"></div>
<div class="box" style="left:812px;top:663px;width:3px;height:12px;border-radius:1.5px;background:#1f1f1f"></div>
<div class="box" style="left:817px;top:663px;width:3px;height:12px;border-radius:1.5px;background:#1f1f1f"></div>
<div class="box" style="left:822px;top:663px;width:3px;height:12px;border-radius:1.5px;background:#1f1f1f"></div>
<div class="box" style="left:827px;top:663px;width:3px;height:12px;border-radius:1.5px;background:#1f1f1f"></div>
<div class="abs t" style="left:846px;top:659px;font-size:14px;line-height:20px;color:#94a3b8;will-change:transform">Deep House</div>
<div class="abs t" style="left:961px;top:659px;font-size:14px;line-height:20px;color:#475569;">—</div>
<div class="abs t" style="left:1151px;top:660px;font-size:12px;line-height:18px;color:#475569;">—</div>
<svg class="abs" style="left:1201px;top:661px;" width="16" height="16" viewBox="0 0 24 24" fill="none" stroke="#64748b" stroke-width="2" stroke-linecap="round" stroke-linejoin="round"><path d="M21.174 6.812a1 1 0 0 0-3.986-3.987L3.842 16.174a2 2 0 0 0-.5.83l-1.321 4.352a.5.5 0 0 0 .623.622l4.353-1.32a2 2 0 0 0 .83-.497z"/></svg>
<svg class="abs" style="left:1229px;top:661.25px;" width="16" height="16" viewBox="0 0 24 24" fill="none" stroke="#64748b" stroke-width="2" stroke-linecap="round" stroke-linejoin="round"><path d="M3 6h18"/><path d="M19 6v14c0 1-1 2-2 2H7c-1 0-2-1-2-2V6"/><path d="M8 6V4c0-1 1-2 2-2h4c1 0 2 1 2 2v2"/><path d="M10 11v6"/><path d="M14 11v6"/></svg>
<div class="box" style="left:281px;top:746px;width:964px;height:1px;background:#161c27"></div>
<svg class="abs" style="left:293px;top:711px;" width="16" height="16" viewBox="0 0 24 24" fill="none" stroke="#475569" stroke-width="2.4" stroke-linecap="round" stroke-linejoin="round"><circle cx="9" cy="12" r="1"/><circle cx="9" cy="5" r="1"/><circle cx="9" cy="19" r="1"/><circle cx="15" cy="12" r="1"/><circle cx="15" cy="5" r="1"/><circle cx="15" cy="19" r="1"/></svg>
<div class="abs t" style="left:321px;top:710px;font-size:16px;line-height:22px;color:#64748b;will-change:transform">6</div>
<div class="abs t" style="left:353px;top:710px;font-size:16px;line-height:22px;color:#f8fafc;will-change:transform;-webkit-text-stroke:0.3px #f8fafc">Henrik Villard (Origina…</div>
<div class="abs t" style="left:544px;top:710px;font-size:16px;line-height:22px;color:#94a3b8;will-change:transform">Bornholm</div>
<div class="abs t" style="left:687px;top:711px;font-size:14px;line-height:20px;color:#12cdee;will-change:transform;-webkit-text-stroke:0.2px #12cdee">125</div>
<div class="box" style="left:734px;top:710px;width:35px;height:22px;border-radius:4px;background:#2b281a;border:1px solid #69592c"></div>
<div class="abs t" style="left:743px;top:711px;font-size:14px;line-height:20px;color:#e2c568;will-change:transform;-webkit-text-stroke:0.2px #e2c568">4B</div>
<div class="box" style="left:782px;top:715px;width:3px;height:12px;border-radius:1.5px;background:#00c950"></div>
<div class="box" style="left:787px;top:715px;width:3px;height:12px;border-radius:1.5px;background:#00c950"></div>
<div class="box" style="left:792px;top:715px;width:3px;height:12px;border-radius:1.5px;background:#00c950"></div>
<div class="box" style="left:797px;top:715px;width:3px;height:12px;border-radius:1.5px;background:#00c950"></div>
<div class="box" style="left:802px;top:715px;width:3px;height:12px;border-radius:1.5px;background:#00c950"></div>
<div class="box" style="left:807px;top:715px;width:3px;height:12px;border-radius:1.5px;background:#1f1f1f"></div>
<div class="box" style="left:812px;top:715px;width:3px;height:12px;border-radius:1.5px;background:#1f1f1f"></div>
<div class="box" style="left:817px;top:715px;width:3px;height:12px;border-radius:1.5px;background:#1f1f1f"></div>
<div class="box" style="left:822px;top:715px;width:3px;height:12px;border-radius:1.5px;background:#1f1f1f"></div>
<div class="box" style="left:827px;top:715px;width:3px;height:12px;border-radius:1.5px;background:#1f1f1f"></div>
<div class="abs t" style="left:846px;top:711px;font-size:14px;line-height:20px;color:#94a3b8;will-change:transform">Deep House</div>
<div class="abs t" style="left:961px;top:711px;font-size:14px;line-height:20px;color:#475569;">—</div>
<div class="abs t" style="left:1151px;top:712px;font-size:12px;line-height:18px;color:#475569;">—</div>
<svg class="abs" style="left:1201px;top:713px;" width="16" height="16" viewBox="0 0 24 24" fill="none" stroke="#64748b" stroke-width="2" stroke-linecap="round" stroke-linejoin="round"><path d="M21.174 6.812a1 1 0 0 0-3.986-3.987L3.842 16.174a2 2 0 0 0-.5.83l-1.321 4.352a.5.5 0 0 0 .623.622l4.353-1.32a2 2 0 0 0 .83-.497z"/></svg>
<svg class="abs" style="left:1229px;top:713.25px;" width="16" height="16" viewBox="0 0 24 24" fill="none" stroke="#64748b" stroke-width="2" stroke-linecap="round" stroke-linejoin="round"><path d="M3 6h18"/><path d="M19 6v14c0 1-1 2-2 2H7c-1 0-2-1-2-2V6"/><path d="M8 6V4c0-1 1-2 2-2h4c1 0 2 1 2 2v2"/><path d="M10 11v6"/><path d="M14 11v6"/></svg>
<div class="box" style="left:281px;top:798px;width:964px;height:1px;background:#161c27"></div>
<svg class="abs" style="left:293px;top:763px;" width="16" height="16" viewBox="0 0 24 24" fill="none" stroke="#475569" stroke-width="2.4" stroke-linecap="round" stroke-linejoin="round"><circle cx="9" cy="12" r="1"/><circle cx="9" cy="5" r="1"/><circle cx="9" cy="19" r="1"/><circle cx="15" cy="12" r="1"/><circle cx="15" cy="5" r="1"/><circle cx="15" cy="19" r="1"/></svg>
<div class="abs t" style="left:321px;top:762px;font-size:16px;line-height:22px;color:#64748b;will-change:transform">7</div>
<div class="abs t" style="left:353px;top:762px;font-size:16px;line-height:22px;color:#f8fafc;will-change:transform;-webkit-text-stroke:0.3px #f8fafc">Reels Rebel (Original …</div>
<div class="abs t" style="left:544px;top:762px;font-size:16px;line-height:22px;color:#94a3b8;will-change:transform">Mennie</div>
<div class="abs t" style="left:687px;top:763px;font-size:14px;line-height:20px;color:#12cdee;will-change:transform;-webkit-text-stroke:0.2px #12cdee">123</div>
<div class="box" style="left:734px;top:762px;width:35px;height:22px;border-radius:4px;background:#1c3130;border:1px solid #33625b"></div>
<div class="abs t" style="left:743px;top:763px;font-size:14px;line-height:20px;color:#7ce0cf;will-change:transform;-webkit-text-stroke:0.2px #7ce0cf">1A</div>
<div class="box" style="left:782px;top:767px;width:3px;height:12px;border-radius:1.5px;background:#00c950"></div>
<div class="box" style="left:787px;top:767px;width:3px;height:12px;border-radius:1.5px;background:#00c950"></div>
<div class="box" style="left:792px;top:767px;width:3px;height:12px;border-radius:1.5px;background:#00c950"></div>
<div class="box" style="left:797px;top:767px;width:3px;height:12px;border-radius:1.5px;background:#00c950"></div>
<div class="box" style="left:802px;top:767px;width:3px;height:12px;border-radius:1.5px;background:#00c950"></div>
<div class="box" style="left:807px;top:767px;width:3px;height:12px;border-radius:1.5px;background:#00c950"></div>
<div class="box" style="left:812px;top:767px;width:3px;height:12px;border-radius:1.5px;background:#1f1f1f"></div>
<div class="box" style="left:817px;top:767px;width:3px;height:12px;border-radius:1.5px;background:#1f1f1f"></div>
<div class="box" style="left:822px;top:767px;width:3px;height:12px;border-radius:1.5px;background:#1f1f1f"></div>
<div class="box" style="left:827px;top:767px;width:3px;height:12px;border-radius:1.5px;background:#1f1f1f"></div>
<div class="abs t" style="left:846px;top:763px;font-size:14px;line-height:20px;color:#94a3b8;will-change:transform">Deep House</div>
<div class="abs t" style="left:961px;top:763px;font-size:14px;line-height:20px;color:#475569;">—</div>
<div class="abs t" style="left:1151px;top:764px;font-size:12px;line-height:18px;color:#475569;">—</div>
<svg class="abs" style="left:1201px;top:765px;" width="16" height="16" viewBox="0 0 24 24" fill="none" stroke="#64748b" stroke-width="2" stroke-linecap="round" stroke-linejoin="round"><path d="M21.174 6.812a1 1 0 0 0-3.986-3.987L3.842 16.174a2 2 0 0 0-.5.83l-1.321 4.352a.5.5 0 0 0 .623.622l4.353-1.32a2 2 0 0 0 .83-.497z"/></svg>
<svg class="abs" style="left:1229px;top:765.25px;" width="16" height="16" viewBox="0 0 24 24" fill="none" stroke="#64748b" stroke-width="2" stroke-linecap="round" stroke-linejoin="round"><path d="M3 6h18"/><path d="M19 6v14c0 1-1 2-2 2H7c-1 0-2-1-2-2V6"/><path d="M8 6V4c0-1 1-2 2-2h4c1 0 2 1 2 2v2"/><path d="M10 11v6"/><path d="M14 11v6"/></svg>
<div class="box" style="left:1270px;top:65px;width:10px;height:735px;background:#1e293b"></div>
<div class="box" style="left:1272px;top:77px;width:6px;height:528px;border-radius:3px;background:#475569"></div>
<svg class="abs" style="left:1270px;top:65px" width="10" height="10" viewBox="0 0 10 10"><path d="M1.7 7.1 L5 2.6 L8.3 7.1Z" fill="#4d5b70"/></svg>
<svg class="abs" style="left:1270px;top:790px" width="10" height="10" viewBox="0 0 10 10"><path d="M1.7 2.9 L5 7.4 L8.3 2.9Z" fill="#4d5b70"/></svg>
</body></html>
